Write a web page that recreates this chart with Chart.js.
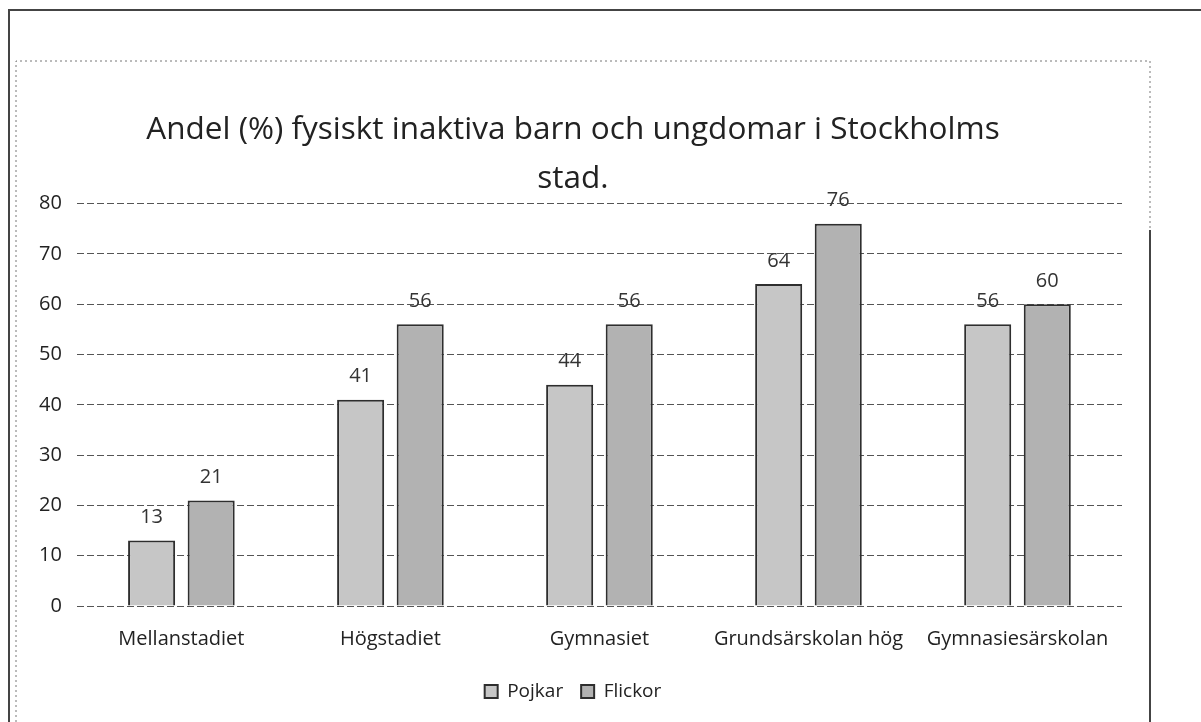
<!DOCTYPE html>
<html>
<head>
<meta charset="utf-8">
<script src="https://cdn.jsdelivr.net/npm/chart.js@4"></script>
<style>
  html, body { margin: 0; padding: 0; background: #fff; }
  #wrap { width: 1201px; height: 722px; }
</style>
</head>
<body>
<div id="wrap"><canvas id="chart" width="1201" height="722"></canvas></div>
<script>
const categories = ['Mellanstadiet', 'Högstadiet', 'Gymnasiet', 'Grundsärskolan hög', 'Gymnasiesärskolan'];
const pojkar = [13, 41, 44, 64, 56];
const flickor = [21, 56, 56, 76, 60];
const yTicks = [0, 10, 20, 30, 40, 50, 60, 70, 80];

const FONT = '"Open Sans", sans-serif';

// scan-like frame around the chart
const framePlugin = {
  id: 'frame',
  beforeDraw(chart) {
    const ctx = chart.ctx;
    ctx.save();
    ctx.fillStyle = '#fff';
    ctx.fillRect(0, 0, chart.width, chart.height);
    ctx.strokeStyle = '#444';
    ctx.lineWidth = 2;
    ctx.beginPath();
    ctx.moveTo(9, 722); ctx.lineTo(9, 10); ctx.lineTo(1201, 10);
    ctx.moveTo(1150, 722); ctx.lineTo(1150, 230);
    ctx.stroke();
    ctx.strokeStyle = '#777';
    ctx.lineWidth = 1;
    ctx.setLineDash([2, 3]);
    ctx.beginPath();
    ctx.moveTo(16, 722); ctx.lineTo(16, 61); ctx.lineTo(1150, 61); ctx.lineTo(1150, 230);
    ctx.stroke();
    ctx.restore();
  }
};

// value labels above each bar
const valueLabels = {
  id: 'valueLabels',
  afterDatasetsDraw(chart) {
    const ctx = chart.ctx;
    ctx.save();
    ctx.font = '20px ' + FONT;
    ctx.fillStyle = '#333';
    ctx.textAlign = 'center';
    ctx.textBaseline = 'middle';
    chart.data.datasets.forEach((ds, i) => {
      chart.getDatasetMeta(i).data.forEach((bar, j) => {
        ctx.fillText(ds.data[j], bar.x, bar.y - 23);
      });
    });
    ctx.restore();
  }
};

new Chart(document.getElementById('chart'), {
  type: 'bar',
  data: {
    labels: categories,
    datasets: [{
      label: 'Pojkar',
      data: pojkar,
      backgroundColor: '#c6c6c6',
      borderColor: '#2e2e2e',
      borderWidth: 2,
      categoryPercentage: 0.57,
      barPercentage: 0.79
    }, {
      label: 'Flickor',
      data: flickor,
      backgroundColor: '#b2b2b2',
      borderColor: '#2e2e2e',
      borderWidth: 2,
      categoryPercentage: 0.57,
      barPercentage: 0.79
    }]
  },
  options: {
    responsive: false,
    animation: false,
    layout: { padding: { top: 106, left: 24, right: 79, bottom: 11 } },
    scales: {
      x: {
        grid: { display: false },
        border: { display: false },
        ticks: { color: '#222', font: { family: FONT, size: 20 }, padding: 13, maxRotation: 0 }
      },
      y: {
        min: 0,
        max: 80,
        afterBuildTicks(axis) { axis.ticks = yTicks.map(v => ({ value: v })); },
        border: { display: false, dash: [7, 3] },
        grid: { color: '#555', lineWidth: 1, drawTicks: false },
        ticks: { color: '#222', font: { family: FONT, size: 20 }, padding: 15 }
      }
    },
    plugins: {
      title: {
        display: true,
        text: ['Andel (%) fysiskt inaktiva barn och ungdomar i Stockholms', 'stad.'],
        color: '#222',
        font: { family: FONT, size: 31.5, weight: 'normal', lineHeight: 1.55 },
        padding: { top: 0, bottom: 0 }
      },
      legend: {
        position: 'bottom',
        labels: {
          color: '#222',
          font: { family: FONT, size: 19 },
          boxWidth: 13,
          boxHeight: 13,
          padding: 18
        }
      },
      tooltip: { enabled: false }
    }
  },
  plugins: [framePlugin, valueLabels]
});
</script>
</body>
</html>
